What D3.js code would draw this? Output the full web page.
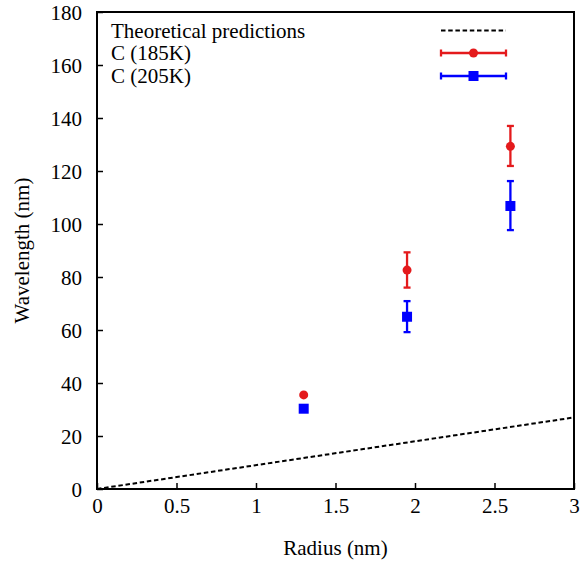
<!DOCTYPE html>
<html>
<head>
<meta charset="utf-8">
<script src="https://cdn.jsdelivr.net/npm/d3@7"></script>
<style>
  html, body { margin: 0; padding: 0; background: #fff; }
</style>
</head>
<body>
<svg id="chart" width="581" height="562"></svg>
<script>
// ---- data ----
const xTicks = [0, 0.5, 1, 1.5, 2, 2.5, 3];
const yTicks = [0, 20, 40, 60, 80, 100, 120, 140, 160, 180];
const radius = [1.3, 1.95, 2.6];
const wl185 = [35.5, 82.6, 129.3];
const wl185Low = [35.5, 76.0, 121.9];
const wl185High = [35.5, 89.3, 137.0];
const wl205 = [30.3, 65.0, 106.8];
const wl205Low = [30.3, 59.2, 97.7];
const wl205High = [30.3, 70.9, 116.2];
const theoryX = [0, 3];
const theoryY = [0, 27];
const legendLabels = ["Theoretical predictions", "C (185K)", "C (205K)"];

const RED = "#e41a1c", BLUE = "#0000ff";
const svg = d3.select("#chart");
const mLeft = 97, mRight = 574, mTop = 12, mBottom = 489;
const x = d3.scaleLinear().domain([0, 3]).range([mLeft, mRight]);
const y = d3.scaleLinear().domain([0, 180]).range([mBottom, mTop]);
const FS = 21;
const FONT = "Liberation Serif, Times New Roman, Times, Tinos, Nimbus Roman, Nimbus Roman No9 L, FreeSerif, Noto Serif, DejaVu Serif, Georgia, serif";

// axes with inward ticks
const xAxis = d3.axisBottom(x).tickValues(xTicks).tickSize(-6).tickPadding(14).tickFormat(d3.format("~g"));
const yAxis = d3.axisLeft(y).tickValues(yTicks).tickSize(-6).tickPadding(14).tickFormat(d3.format("~g"));
const gx = svg.append("g").attr("transform", `translate(0,${mBottom})`).call(xAxis);
const gy = svg.append("g").attr("transform", `translate(${mLeft},0)`).call(yAxis);
[gx, gy].forEach(g => {
  g.attr("font-family", null).attr("font-size", null);
  g.select(".domain").remove();
  g.selectAll(".tick line").attr("stroke", "#000").attr("stroke-width", 1.5);
  g.selectAll(".tick text").attr("fill", "#000").style("font-family", FONT).style("font-size", FS + "px");
});
gx.selectAll(".tick text").attr("y", 24).attr("dy", "0");
gy.selectAll(".tick text").attr("x", -15).attr("dy", "0.35em");

// theory dashed line
const pts = theoryX.map((v, i) => [v, theoryY[i]]);
svg.append("path").datum(pts)
  .attr("d", d3.line().x(d => x(d[0])).y(d => y(d[1])))
  .attr("fill", "none").attr("stroke", "#000").attr("stroke-width", 2)
  .attr("stroke-dasharray", "4.5,2.7");

// error bars + markers
function series(vals, lo, hi, color, shape) {
  const g = svg.append("g");
  radius.forEach((r, i) => {
    if (hi[i] - lo[i] > 0.5) {
      const cx = x(r);
      g.append("line").attr("x1", cx).attr("x2", cx).attr("y1", y(lo[i])).attr("y2", y(hi[i]))
        .attr("stroke", color).attr("stroke-width", 2.3);
      [lo[i], hi[i]].forEach(v => g.append("line").attr("x1", cx - 3.5).attr("x2", cx + 3.5)
        .attr("y1", y(v)).attr("y2", y(v)).attr("stroke", color).attr("stroke-width", 2.3));
    }
    if (shape === "circle") {
      g.append("circle").attr("cx", x(r)).attr("cy", y(vals[i])).attr("r", 4.5).attr("fill", color);
    } else {
      g.append("rect").attr("x", x(r) - 5).attr("y", y(vals[i]) - 5).attr("width", 10).attr("height", 10).attr("fill", color);
    }
  });
}
series(wl185, wl185Low, wl185High, RED, "circle");
series(wl205, wl205Low, wl205High, BLUE, "square");

// frame
svg.append("rect").attr("x", mLeft).attr("y", mTop).attr("width", mRight - mLeft).attr("height", mBottom - mTop)
  .attr("fill", "none").attr("stroke", "#000").attr("stroke-width", 2);

// legend
const rowY = [30.5, 53, 76];
const lg = svg.append("g");
legendLabels.forEach((t, i) => {
  lg.append("text").attr("x", 111).attr("y", rowY[i]).attr("dy", "0.35em")
    .style("font-family", FONT).style("font-size", FS + "px")
    .attr("fill", "#000").text(t);
});
lg.append("line").attr("x1", 441).attr("x2", 506).attr("y1", rowY[0]).attr("y2", rowY[0])
  .attr("stroke", "#000").attr("stroke-width", 2).attr("stroke-dasharray", "4.5,2.7");
[[RED, "circle"], [BLUE, "square"]].forEach(([c, s], k) => {
  const yy = rowY[k + 1];
  lg.append("line").attr("x1", 441).attr("x2", 506).attr("y1", yy).attr("y2", yy).attr("stroke", c).attr("stroke-width", 2.3);
  [441, 506].forEach(xx => lg.append("line").attr("x1", xx).attr("x2", xx).attr("y1", yy - 3.5).attr("y2", yy + 3.5)
    .attr("stroke", c).attr("stroke-width", 2.3));
  if (s === "circle") lg.append("circle").attr("cx", 473.5).attr("cy", yy).attr("r", 4.5).attr("fill", c);
  else lg.append("rect").attr("x", 468.5).attr("y", yy - 5).attr("width", 10).attr("height", 10).attr("fill", c);
});

// axis titles
svg.append("text").attr("x", (mLeft + mRight) / 2).attr("y", 548).attr("dy", "0.35em")
  .style("font-family", FONT).style("font-size", FS + "px")
  .attr("text-anchor", "middle").text("Radius (nm)");
svg.append("text").attr("transform", `translate(22,${(mTop + mBottom) / 2}) rotate(-90)`).attr("dy", "0.35em")
  .style("font-family", FONT).style("font-size", FS + "px")
  .attr("text-anchor", "middle").text("Wavelength (nm)");
</script>
</body>
</html>
